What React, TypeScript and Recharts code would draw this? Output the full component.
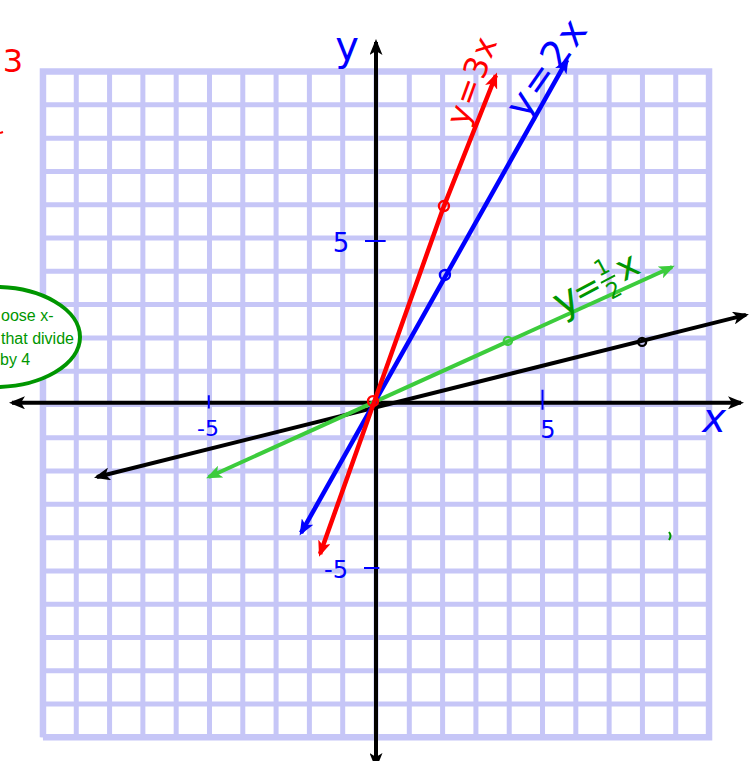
import { Line, LineChart, Scatter, XAxis, YAxis } from "recharts"

// grid: one square per unit from -10 to 10 on both axes
const gridSteps = [-10, -9, -8, -7, -6, -5, -4, -3, -2, -1, 0, 1, 2, 3, 4, 5, 6, 7, 8, 9, 10]
const gridMin = -10
const gridMax = 10

// hand drawn lines, ends (arrow tips)
const redLine = [
  { x: -1.68, y: -4.49 },
  { x: 2.04, y: 5.96 },
  { x: 3.6, y: 9.89 },
]
const blueLine = [
  { x: -2.25, y: -3.86 },
  { x: 5.74, y: 10.35 },
]
const greenLine = [
  { x: -5.02, y: -2.18 },
  { x: 8.89, y: 4.13 },
]
const blackLine = [
  { x: -8.38, y: -2.18 },
  { x: 11.11, y: 2.69 },
]

// axes drawn as arrows
const xAxisLine = [
  { x: -10.93, y: 0.05 },
  { x: 10.96, y: 0.05 },
]
const yAxisLine = [
  { x: 0, y: 10.89 },
  { x: 0, y: -10.86 },
]

// circled points
const redPoints = [
  { x: 2.04, y: 5.96 },
  { x: -0.09, y: 0.1 },
]
const bluePoints = [{ x: 2.07, y: 3.89 }]
const greenPoints = [{ x: 3.96, y: 1.91 }]
const blackPoints = [{ x: 7.99, y: 1.88 }]

// hand drawn tick marks on the axes
const xTicks = [
  { x: -5.02, from: 0.28, to: -0.12 },
  { x: 5.0, from: 0.44, to: -0.16 },
]
const yTicks = [
  { y: 4.91, from: -0.33, to: 0.29 },
  { y: -4.91, from: -0.36, to: 0.1 },
]

// text of the note bubble (cut by the page edge in the original)
const noteLines = ["oose x-", "that divide", "by 4"]

const X_DOMAIN = [-11.29, 11.29]
const Y_DOMAIN = [-10.71, 12.15]

const GRID_COLOR = "#c6c6f7"
const RED = "#ff0000"
const BLUE = "#0000ff"
const GREEN = "#3ccc3c"
const DARK_GREEN = "#009600"
const HAND_FONT = "DejaVu Sans, sans-serif"
const NOTE_FONT = "Liberation Sans, Arial, sans-serif"

const verticalGrid = gridSteps.flatMap((s) => [
  { x: s, y: gridMin },
  { x: s, y: gridMax },
  { x: s, y: null },
])
const horizontalGrid = gridSteps.flatMap((s) => [
  { x: gridMin, y: s },
  { x: gridMax, y: s },
  { x: gridMax, y: null },
])
const gridBorder = [
  { x: gridMin, y: gridMin },
  { x: gridMax, y: gridMin },
  { x: gridMax, y: gridMax },
  { x: gridMin, y: gridMax },
  { x: gridMin, y: gridMin },
]
const xTickSegments = xTicks.flatMap((t) => [
  { x: t.x, y: t.from },
  { x: t.x, y: t.to },
  { x: t.x, y: null },
])
const yTickSegments = yTicks.flatMap((t) => [
  { x: t.from, y: t.y },
  { x: t.to, y: t.y },
  { x: t.to, y: null },
])

function Arrow({ id, color }: { id: string; color: string }) {
  return (
    <marker
      id={id}
      viewBox="0 0 16 13"
      refX={13}
      refY={6.5}
      markerWidth={16}
      markerHeight={13}
      markerUnits="userSpaceOnUse"
      orient="auto-start-reverse"
    >
      <path d="M0,0 L16,6.5 L0,13 L4,6.5 Z" fill={color} />
    </marker>
  )
}

const ring = (color: string, r: number) => (props: any) =>
  <circle cx={props.cx} cy={props.cy} r={r} fill="none" stroke={color} strokeWidth={2.4} />

function handLine(key: string, data: any[], color: string, arrowId: string, width = 4) {
  return (
    <Line
      key={key}
      data={data}
      dataKey="y"
      type="linear"
      stroke={color}
      strokeWidth={width}
      dot={false}
      activeDot={false}
      isAnimationActive={false}
      markerStart={`url(#${arrowId})`}
      markerEnd={`url(#${arrowId})`}
    />
  )
}

function plainLine(data: any[], color: string, width: number) {
  return (
    <Line
      data={data}
      dataKey="y"
      stroke={color}
      strokeWidth={width}
      dot={false}
      activeDot={false}
      isAnimationActive={false}
    />
  )
}

// handwriting that sits on top of the chart
function Notes() {
  return (
    <svg
      width={752}
      height={761}
      style={{ position: "absolute", left: 0, top: 0, pointerEvents: "none" }}
    >
      <ellipse cx={-6} cy={337} rx={86} ry={50} fill="#fff" stroke={DARK_GREEN} strokeWidth={4} />
      <text x={1} y={321} fill={DARK_GREEN} fontSize={16} fontFamily={NOTE_FONT}>{noteLines[0]}</text>
      <text x={1} y={344} fill={DARK_GREEN} fontSize={16} fontFamily={NOTE_FONT}>{noteLines[1]}</text>
      <text x={0} y={365} fill={DARK_GREEN} fontSize={16} fontFamily={NOTE_FONT}>{noteLines[2]}</text>

      <text x={13} y={72} textAnchor="middle" fill={RED} fontSize={32} fontFamily={HAND_FONT}>3</text>
      <line x1={0} y1={133} x2={3} y2={132} stroke={RED} strokeWidth={2} />
      <path d="M669,532 q3,4 0,8" stroke={DARK_GREEN} strokeWidth={2} fill="none" />

      <text x={347} y={60} textAnchor="middle" fill={BLUE} fontSize={40} fontFamily={HAND_FONT}>y</text>
      <text x={714} y={432} textAnchor="middle" fill={BLUE} fontSize={40} fontFamily={HAND_FONT} fontStyle="italic">x</text>
      <text x={548} y={438} textAnchor="middle" fill={BLUE} fontSize={24} fontFamily={HAND_FONT}>5</text>
      <text x={208} y={436} textAnchor="middle" fill={BLUE} fontSize={22} fontFamily={HAND_FONT}>-5</text>
      <text x={341} y={252} textAnchor="middle" fill={BLUE} fontSize={26} fontFamily={HAND_FONT}>5</text>
      <text x={336} y={578} textAnchor="middle" fill={BLUE} fontSize={24} fontFamily={HAND_FONT}>-5</text>

      <text x={472} y={80} textAnchor="middle" dominantBaseline="central" transform="rotate(-70 472 80)" fill={RED} fontSize={32} letterSpacing={2} fontFamily={HAND_FONT}>y=3x</text>
      <text x={547} y={67} textAnchor="middle" dominantBaseline="central" transform="rotate(-55 547 67)" fill={BLUE} fontSize={38} letterSpacing={3} fontFamily={HAND_FONT}>y=2x</text>

      <g transform="translate(593 287) rotate(-28)" fill={DARK_GREEN} fontFamily={HAND_FONT}>
        <text x={-30} y={12} textAnchor="middle" fontSize={40}>y</text>
        <text x={-6} y={10} textAnchor="middle" fontSize={34}>=</text>
        <text x={17} y={-6} textAnchor="middle" fontSize={22}>1</text>
        <line x1={9} y1={0} x2={25} y2={0} stroke={DARK_GREEN} strokeWidth={2} />
        <text x={17} y={20} textAnchor="middle" fontSize={22}>2</text>
        <text x={40} y={10} textAnchor="middle" fontSize={36}>x</text>
      </g>
    </svg>
  )
}

export default function App() {
  return (
    <div style={{ position: "absolute", left: 0, top: 0, width: 752, height: 761, background: "#fff" }}>
      <LineChart width={752} height={761} margin={{ top: 0, right: 0, bottom: 0, left: 0 }}>
        <defs>
          <Arrow id="arrow-black" color="#000" />
          <Arrow id="arrow-red" color={RED} />
          <Arrow id="arrow-blue" color={BLUE} />
          <Arrow id="arrow-green" color={GREEN} />
        </defs>
        <XAxis type="number" dataKey="x" domain={X_DOMAIN} allowDataOverflow hide />
        <YAxis type="number" dataKey="y" domain={Y_DOMAIN} allowDataOverflow hide />

        {plainLine(verticalGrid, GRID_COLOR, 5)}
        {plainLine(horizontalGrid, GRID_COLOR, 5)}
        {plainLine(gridBorder, GRID_COLOR, 6.5)}

        {handLine("xaxis", xAxisLine, "#000", "arrow-black", 4)}
        {handLine("yaxis", yAxisLine, "#000", "arrow-black", 4)}
        {handLine("black", blackLine, "#000", "arrow-black", 4)}
        {handLine("green", greenLine, GREEN, "arrow-green", 4)}
        {handLine("blue", blueLine, BLUE, "arrow-blue", 4.5)}
        {handLine("red", redLine, RED, "arrow-red", 4.5)}

        {plainLine(xTickSegments, BLUE, 2)}
        {plainLine(yTickSegments, BLUE, 2)}

        <Scatter data={blackPoints} shape={ring("#000", 4)} isAnimationActive={false} />
        <Scatter data={greenPoints} shape={ring(GREEN, 4)} isAnimationActive={false} />
        <Scatter data={bluePoints} shape={ring(BLUE, 5)} isAnimationActive={false} />
        <Scatter data={redPoints} shape={ring(RED, 5)} isAnimationActive={false} />
      </LineChart>
      <Notes />
    </div>
  )
}
